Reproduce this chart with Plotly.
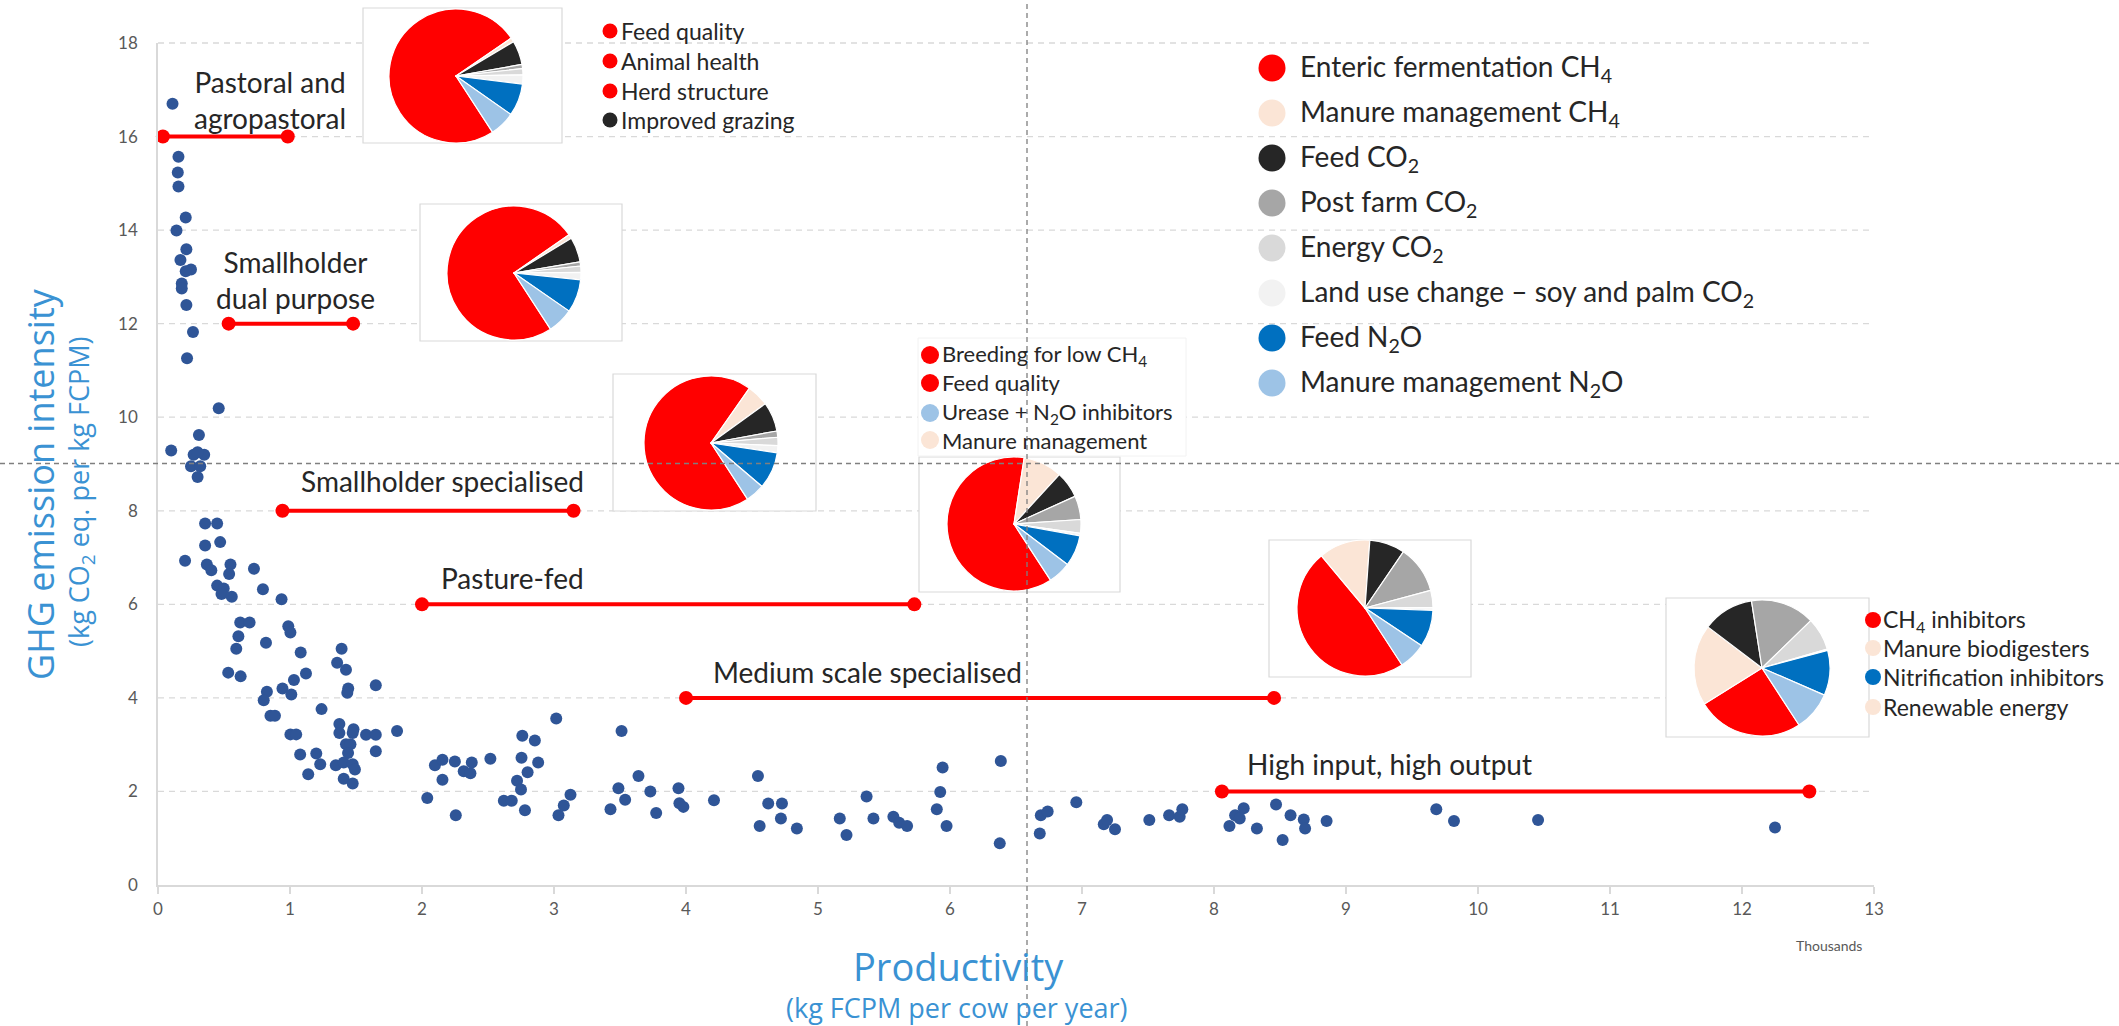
import plotly.graph_objects as go

# ---------------- data ----------------
# productivity (thousand kg FPCM per cow per year) and GHG emission intensity
prod_k = [0.11, 0.155, 0.15, 0.155, 0.21, 0.14, 0.215, 0.17, 0.25, 0.21, 0.18, 0.18, 0.215, 0.265, 0.22,
          0.46, 0.10, 0.31, 0.27, 0.35, 0.30, 0.25, 0.32, 0.30,
          0.357, 0.448, 0.357, 0.471, 0.205, 0.37, 0.404, 0.549, 0.539, 0.727, 0.448, 0.498, 0.481, 0.559,
          0.795, 0.936, 0.623, 0.694, 0.609, 0.593, 0.818, 0.987, 1.003, 1.081, 1.391, 1.357, 1.424, 0.532,
          0.626, 1.121, 1.03, 0.943, 1.01, 0.825, 0.801, 1.441, 1.434, 1.65, 1.239, 0.852, 0.886, 1.374,
          1.374, 1.481, 1.475, 1.003, 1.047, 1.576, 1.65, 1.811, 1.424, 1.458, 1.44, 1.65, 1.077, 1.199,
          1.229, 1.347, 1.407, 1.475, 1.492, 1.138, 1.407, 1.475,
          2.04, 2.098, 2.155, 2.155, 2.249, 2.256, 2.316, 2.367, 2.377, 2.518, 2.62, 2.68, 2.72, 2.75,
          2.754, 2.76, 2.80, 2.78, 2.855, 2.88, 3.017, 3.034, 3.074, 3.125, 3.428, 3.488, 3.539, 3.512,
          3.64, 3.73, 3.774, 3.943, 3.95, 3.98,
          4.212, 4.545, 4.558, 4.623, 4.727, 4.719, 4.84, 5.165, 5.216, 5.368, 5.42, 5.571, 5.615, 5.675,
          5.9, 5.926, 5.944, 5.974, 6.385, 6.377, 6.68, 6.688, 6.74, 6.957, 7.165, 7.19, 7.25, 7.51, 7.66,
          7.74, 7.76, 8.117, 8.16, 8.195, 8.225, 8.325, 8.47, 8.52, 8.58, 8.68, 8.69, 8.853, 9.684, 9.818,
          10.455, 12.25]
ghg = [16.70, 15.57, 15.23, 14.93, 14.27, 13.99, 13.59, 13.36, 13.16, 13.12, 12.86, 12.75, 12.40, 11.82, 11.26,
       10.19, 9.29, 9.62, 9.20, 9.20, 9.25, 8.95, 8.95, 8.72,
       7.73, 7.73, 7.26, 7.33, 6.93, 6.85, 6.73, 6.85, 6.65, 6.76, 6.40, 6.34, 6.22, 6.16,
       6.32, 6.11, 5.61, 5.61, 5.32, 5.05, 5.18, 5.53, 5.40, 4.97, 5.05, 4.75, 4.60, 4.54,
       4.46, 4.52, 4.38, 4.20, 4.07, 4.13, 3.95, 4.20, 4.11, 4.27, 3.76, 3.62, 3.62, 3.44,
       3.25, 3.33, 3.25, 3.22, 3.22, 3.21, 3.21, 3.29, 3.01, 3.01, 2.82, 2.86, 2.79, 2.81,
       2.58, 2.56, 2.62, 2.58, 2.47, 2.37, 2.27, 2.17,
       1.86, 2.56, 2.68, 2.25, 2.64, 1.49, 2.43, 2.39, 2.62, 2.70, 1.80, 1.80, 2.23, 2.04,
       2.72, 3.19, 2.41, 1.60, 3.09, 2.62, 3.56, 1.49, 1.70, 1.93, 1.62, 2.07, 1.82, 3.29,
       2.33, 2.00, 1.54, 2.07, 1.75, 1.67,
       1.81, 2.33, 1.26, 1.74, 1.74, 1.42, 1.21, 1.42, 1.07, 1.89, 1.42, 1.46, 1.33, 1.26,
       1.62, 1.99, 2.51, 1.26, 2.65, 0.89, 1.10, 1.49, 1.57, 1.77, 1.30, 1.39, 1.19, 1.39, 1.49,
       1.46, 1.62, 1.26, 1.49, 1.42, 1.64, 1.21, 1.72, 0.96, 1.49, 1.40, 1.21, 1.37, 1.62, 1.37,
       1.39, 1.23]

systems = ["Pastoral and<br>agropastoral", "Smallholder<br>dual purpose", "Smallholder specialised",
           "Pasture-fed", "Medium scale specialised", "High input, high output"]
sys_start = [0.037, 0.535, 0.943, 2.0, 4.0, 8.06]
sys_end = [0.983, 1.478, 3.148, 5.73, 8.455, 12.51]
sys_level = [16, 12, 8, 6, 4, 2]

components = ["Enteric fermentation CH<sub>4</sub>", "Manure management CH<sub>4</sub>",
              "Feed CO<sub>2</sub>", "Post farm CO<sub>2</sub>", "Energy CO<sub>2</sub>",
              "Land use change \u2013 soy and palm CO<sub>2</sub>", "Feed N<sub>2</sub>O",
              "Manure management N<sub>2</sub>O"]
comp_colors = ["#FF0000", "#FBE5D6", "#262626", "#A6A6A6", "#D9D9D9", "#F2F2F2", "#0070C0", "#9DC3E6"]

# emission shares (%) per system, in component order
share_pastoral = [74.6, 1.0, 5.8, 1.0, 1.5, 2.2, 7.8, 6.1]
share_dual = [74.5, 1.0, 6.0, 1.0, 1.5, 1.8, 8.0, 6.2]
share_small_spec = [68.9, 5.3, 7.1, 1.5, 2.0, 1.7, 8.9, 4.6]
share_pasture = [61.6, 9.4, 6.4, 5.7, 3.3, 0.6, 7.5, 5.5]
share_medium = [48.1, 12.2, 8.4, 11.3, 4.1, 0.6, 8.8, 6.5]
share_high = [25.3, 19.2, 12.2, 15.2, 7.8, 0.3, 10.7, 9.3]

options_low = ["Feed quality", "Animal health", "Herd structure", "Improved grazing"]
options_low_colors = ["#FF0000", "#FF0000", "#FF0000", "#262626"]
options_mid = ["Breeding for low CH<sub>4</sub>", "Feed quality", "Urease + N<sub>2</sub>O inhibitors",
               "Manure management"]
options_mid_colors = ["#FF0000", "#FF0000", "#9DC3E6", "#FBE5D6"]
options_high = ["CH<sub>4</sub> inhibitors", "Manure biodigesters", "Nitrification inhibitors",
                "Renewable energy"]
options_high_colors = ["#FF0000", "#FBE5D6", "#0070C0", "#FBE5D6"]

x_ticks = list(range(0, 14))
y_ticks = list(range(0, 20, 2))

# ---------------- layout helpers ----------------
W, H = 2119, 1026
PL, PR, PT, PB = 158, 1874, 43, 885   # plot area in pixels


def X(p):
    return p / W


def Y(p):
    return 1 - p / H


TXT = "Lato, 'Open Sans', sans-serif"
TTL = "'Open Sans', 'Noto Sans', sans-serif"
DARK = "#262626"
BLUE_T = "#3A92D3"

fig = go.Figure()

fig.add_trace(go.Scatter(x=prod_k, y=ghg, mode="markers",
                         marker=dict(color="#2F5597", size=12, line=dict(width=0)),
                         showlegend=False, hoverinfo="x+y"))

for s, a, b, lv in zip(systems, sys_start, sys_end, sys_level):
    fig.add_trace(go.Scatter(x=[a, b], y=[lv, lv], mode="lines+markers",
                             line=dict(color="#FF0000", width=4),
                             marker=dict(color="#FF0000", size=14),
                             cliponaxis=False, showlegend=False, name=s.replace("<br>", " ")))

# pies: (shares, centre x px, centre y px, radius px)
pies = [(share_pastoral, 456, 76, 67), (share_dual, 514, 273, 67), (share_small_spec, 711, 443, 67),
        (share_pasture, 1014, 524, 67), (share_medium, 1365, 608, 68), (share_high, 1762, 668, 68)]
boxes = [(363, 8, 562, 143), (420, 204, 622, 341), (613, 374, 816, 511),
         (919, 457, 1120, 592), (1269, 540, 1471, 677), (1666, 598, 1869, 737)]

for (vals, cx, cy, r) in pies:
    fig.add_trace(go.Pie(values=vals, labels=components, sort=False, direction="clockwise",
                         rotation=147, textinfo="none", showlegend=False, automargin=False,
                         marker=dict(colors=comp_colors, line=dict(color="white", width=1.2)),
                         domain=dict(x=[X(cx - r), X(cx + r)], y=[Y(cy + r), Y(cy - r)])))

shapes = []
# dashed horizontal gridlines
for v in y_ticks[1:]:
    yp = PB - v / 18 * (PB - PT)
    shapes.append(dict(type="line", xref="paper", yref="paper", x0=X(PL), x1=X(PR), y0=Y(yp), y1=Y(yp),
                       line=dict(color="#D9D9D9", width=1.3, dash="6px,5px"), layer="below"))
# pie boxes (white, over gridlines)
for (x0, y0, x1, y1) in boxes:
    shapes.append(dict(type="rect", xref="paper", yref="paper", x0=X(x0), x1=X(x1), y0=Y(y1), y1=Y(y0),
                       line=dict(color="#D9D9D9", width=1.2), fillcolor="white", layer="below"))
# white box behind middle options list
shapes.append(dict(type="rect", xref="paper", yref="paper", x0=X(918), x1=X(1186), y0=Y(456), y1=Y(338),
                   line=dict(color="#F2F2F2", width=1), fillcolor="white", layer="below"))
# crosshair dashed lines
shapes.append(dict(type="line", xref="paper", yref="paper", x0=X(1027), x1=X(1027), y0=0, y1=1,
                   line=dict(color="#7F7F7F", width=1.3, dash="5px,4px"), layer="above"))
shapes.append(dict(type="line", xref="paper", yref="paper", x0=0, x1=1, y0=Y(463.5), y1=Y(463.5),
                   line=dict(color="#7F7F7F", width=1.3, dash="5px,4px"), layer="above"))

annotations = []


def legend_block(labels, colors, x_mark, x_text, ys, rad, fsize):
    for lab, col, yy in zip(labels, colors, ys):
        shapes.append(dict(type="circle", xref="paper", yref="paper", xsizemode="pixel", ysizemode="pixel",
                           xanchor=X(x_mark), yanchor=Y(yy), x0=-rad, x1=rad, y0=-rad, y1=rad,
                           fillcolor=col, line=dict(width=0), layer="above"))
        annotations.append(dict(xref="paper", yref="paper", x=X(x_text), y=Y(yy), text=lab,
                                xanchor="left", yanchor="middle", showarrow=False,
                                font=dict(family=TXT, size=fsize, color=DARK)))


legend_block(components, comp_colors, 1272, 1298, [68, 113, 158, 203, 248, 293, 338, 383], 13.5, 28)
legend_block(options_low, options_low_colors, 610, 619, [31, 61, 91, 120], 7.5, 23)
legend_block(options_mid, options_mid_colors, 930, 940, [355, 383, 413, 440], 9, 22)
legend_block(options_high, options_high_colors, 1873, 1881, [620, 648, 677, 707], 8, 23)

# system labels
label_pos = [(270, 100), (295, 280), (442, 481), (512, 578), (867, 672), (1389, 764)]
for s, (lx, ly) in zip(systems, label_pos):
    annotations.append(dict(xref="paper", yref="paper", x=X(lx), y=Y(ly), text=s, showarrow=False,
                            xanchor="center", yanchor="middle", align="center",
                            font=dict(family=TXT, size=28, color=DARK)))

# axis titles
annotations += [
    dict(xref="paper", yref="paper", x=X(40), y=Y(484), text="GHG emission intensity", textangle=-90,
         showarrow=False, xanchor="center", yanchor="middle", font=dict(family=TTL, size=36, color=BLUE_T)),
    dict(xref="paper", yref="paper", x=X(80), y=Y(492), text="(kg CO<sub>2</sub> eq. per kg FCPM)",
         textangle=-90, showarrow=False, xanchor="center", yanchor="middle",
         font=dict(family=TTL, size=27, color=BLUE_T)),
    dict(xref="paper", yref="paper", x=X(958), y=Y(966), text="Productivity", showarrow=False,
         xanchor="center", yanchor="middle", font=dict(family=TTL, size=38, color=BLUE_T)),
    dict(xref="paper", yref="paper", x=X(957), y=Y(1007), text="(kg FCPM per cow per year)", showarrow=False,
         xanchor="center", yanchor="middle", font=dict(family=TTL, size=27, color=BLUE_T)),
    dict(xref="paper", yref="paper", x=X(1829), y=Y(945), text="Thousands", showarrow=False,
         xanchor="center", yanchor="middle", font=dict(family=TXT, size=14, color="#595959")),
]

fig.update_layout(
    width=W, height=H, autosize=False,
    margin=dict(l=0, r=0, t=0, b=0, pad=0, autoexpand=False),
    paper_bgcolor="white", plot_bgcolor="rgba(0,0,0,0)",
    shapes=shapes, annotations=annotations, showlegend=False,
    xaxis=dict(domain=[X(PL), X(PR)], range=[0, 13], tickvals=x_ticks, showgrid=False, zeroline=False,
               automargin=False,
               showline=True, linecolor="#D9D9D9", linewidth=2, ticks="outside", ticklen=7,
               tickcolor="#D9D9D9", tickwidth=1.5, ticklabelstandoff=1,
               tickfont=dict(family=TXT, size=17, color="#595959")),
    yaxis=dict(domain=[Y(PB), Y(PT)], range=[0, 18], tickvals=y_ticks, showgrid=False, zeroline=False,
               automargin=False,
               showline=True, linecolor="#D9D9D9", linewidth=1.5, ticks="outside", ticklen=15,
               tickcolor="rgba(0,0,0,0)",
               tickfont=dict(family=TXT, size=17, color="#595959")),
)

fig.write_html("out.html", config={"displayModeBar": False},
               post_script="document.body.style.margin='0px';document.body.style.overflow='hidden';")
